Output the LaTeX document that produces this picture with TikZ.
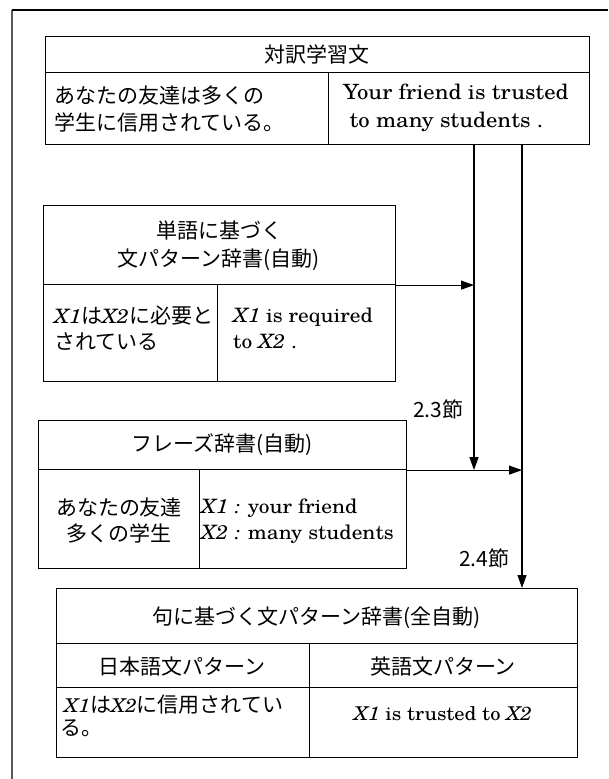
\documentclass[tikz,border=0pt]{standalone}
\usepackage{fontspec}
\setmainfont{TeX Gyre Schola}[FakeStretch=1.08]
\newfontfamily\jpf{Noto Sans CJK JP}
\usetikzlibrary{arrows.meta}
\newcommand\xit[1]{\textit{#1}}
\begin{document}
\begin{tikzpicture}[x=1pt,y=-1pt,
  cell/.style={draw, line width=1.1pt, inner sep=0pt, anchor=north west},
  jp/.style={font=\jpf\fontsize{21}{26}\selectfont, inner sep=0pt},
  en/.style={font=\fontsize{21}{28}\selectfont, inner sep=0pt},
  ensm/.style={font=\fontsize{19.8}{28}\selectfont, inner sep=0pt},
  enxs/.style={font=\fontsize{19}{28}\selectfont, inner sep=0pt},
  arr/.style={line width=1.1pt, -{Triangle[length=13pt,width=9pt]}}]
\useasboundingbox (0,0) rectangle (608,779);
% outer frame
\draw[line width=1.2pt, black!65] (12,779) -- (12,10);
\draw[line width=1.2pt] (12,10) -- (608,10);

% ---- box 1
\node[cell, minimum width=544pt, minimum height=36pt] (t1h) at (45,36) {};
\node[cell, minimum width=283pt, minimum height=72pt] (t1l) at (45,72) {};
\node[cell, minimum width=261pt, minimum height=72pt] (t1r) at (328,72) {};
\node[jp, anchor=base] (t1ht) at (317,62) {対訳学習文};
\node[jp, anchor=base west] (t1l1) at (54,103) {あなたの友達は多くの};
\node[jp, anchor=base west] (t1l2) at (54,130) {学生に信用されている。};
\node[en, anchor=base west] (t1r1) at (343,99) {Your friend is trusted};
\node[en, anchor=base west] (t1r2) at (343,127) {\ to many students .};

% ---- box 2
\node[cell, minimum width=352pt, minimum height=79pt] (t2h) at (43,205) {};
\node[cell, minimum width=174pt, minimum height=97pt] (t2l) at (43,284) {};
\node[cell, minimum width=178pt, minimum height=97pt] (t2r) at (217,284) {};
\node[jp, anchor=base] (t2h1) at (219,238) {単語に基づく};
\node[jp, anchor=base] (t2h2) at (219,266) {文パターン辞書(自動)};
\node[jp, anchor=base west] (t2l1) at (54,323) {{\rmfamily\fontsize{19.8}{28}\selectfont\xit{X1}}は{\rmfamily\fontsize{19.8}{28}\selectfont\xit{X2}}に必要と};
\node[jp, anchor=base west] (t2l2) at (54,349) {されている};
\node[ensm, anchor=base west] (t2r1) at (233,322) {\xit{X1} is required};
\node[ensm, anchor=base west] (t2r2) at (233,348) {to \xit{X2} .};

% ---- box 3
\node[cell, minimum width=368pt, minimum height=49pt] (t3h) at (38,420) {};
\node[cell, minimum width=161pt, minimum height=99pt] (t3l) at (38,469) {};
\node[cell, minimum width=207pt, minimum height=99pt] (t3r) at (199,469) {};
\node[jp, anchor=base] (t3ht) at (222,451) {フレーズ辞書(自動)};
\node[jp, anchor=base] (t3l1) at (119,515) {あなたの友達};
\node[jp, anchor=base] (t3l2) at (119,541) {多くの学生};
\node[ensm, anchor=base west] (t3r1) at (201,513) {\xit{X1 :} your friend};
\node[ensm, anchor=base west] (t3r2) at (201,539) {\xit{X2 :} many students};

% ---- box 4
\node[cell, minimum width=521pt, minimum height=55pt] (t4h) at (56,588) {};
\node[cell, minimum width=253pt, minimum height=44pt] (t4a) at (56,643) {};
\node[cell, minimum width=268pt, minimum height=44pt] (t4b) at (309,643) {};
\node[cell, minimum width=253pt, minimum height=70pt] (t4c) at (56,687) {};
\node[cell, minimum width=268pt, minimum height=70pt] (t4d) at (309,687) {};
\node[jp, anchor=base] (t4ht) at (316.5,624) {句に基づく文パターン辞書(全自動)};
\node[jp, anchor=base] (t4at) at (182,674) {日本語文パターン};
\node[jp, anchor=base] (t4bt) at (443,674) {英語文パターン};
\node[jp, anchor=base west] (t4c1) at (64,712) {{\rmfamily\fontsize{19}{28}\selectfont\xit{X1}}は{\rmfamily\fontsize{19}{28}\selectfont\xit{X2}}に信用されてい};
\node[jp, anchor=base west] (t4c2) at (60,735) {る。};
\node[enxs, anchor=base] (t4dt) at (443,720) {\xit{X1} is trusted to \xit{X2}};

% ---- connectors
\coordinate (v1top) at (474,144);
\coordinate (v2top) at (522,144);
\draw[arr] (v1top) -- (v1top |- t3h.south);
\draw[arr] (v2top) -- (v2top |- t4h.north);
\draw[arr] (t2h.south east) -- (t2h.south east -| v1top);
\draw[arr] (t3h.south east) -- (t3h.south east -| v2top);
\node[jp, anchor=base west] (l23) at (413,417) {2.3節};
\node[jp, anchor=base west] (l24) at (459,566) {2.4節};
\end{tikzpicture}
\end{document}
